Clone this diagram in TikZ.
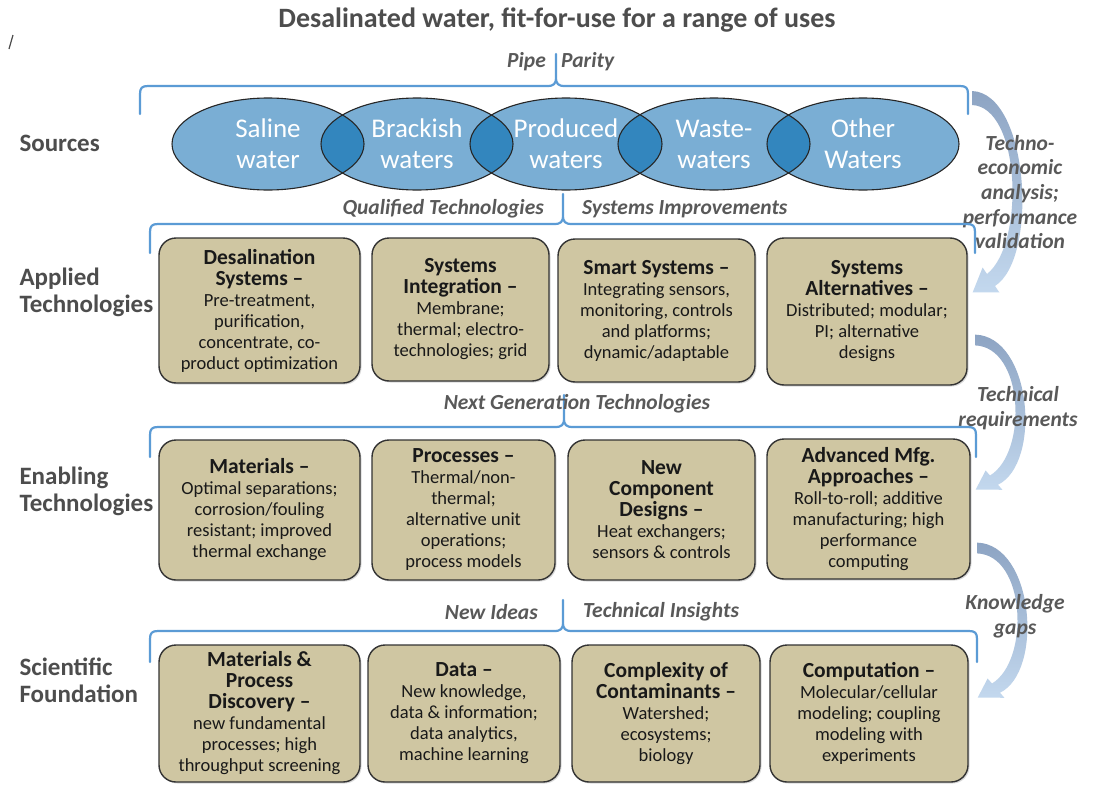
\documentclass[tikz,border=0pt]{standalone}
\usepackage{fontspec}
\setmainfont{Carlito}
\usetikzlibrary{shadows,shapes.geometric}
\definecolor{brc}{HTML}{5B9BD5}
\definecolor{ell}{HTML}{7AAED4}
\definecolor{ellov}{HTML}{3386BE}
\definecolor{boxf}{HTML}{CFC6A2}
\definecolor{lbl}{HTML}{4D4D4D}
\definecolor{ital}{HTML}{595959}
\definecolor{arrtop}{HTML}{8DA4C3}
\definecolor{arrbot}{HTML}{C3D8EE}
\newcommand\hd[1]{{\fontsize{21.5}{22}\selectfont\bfseries #1}}
\newcommand\mybrace[6]{%
\draw[bracepath] (#1,#5) -- (#1,#4+8) .. controls (#1,#4+2) and (#1+2,#4) .. (#1+8,#4)
 -- (#3-9,#4) .. controls (#3-2,#4) and (#3,#4-2) .. (#3,#4-9) -- (#3,#6)
 -- (#3,#4-9) .. controls (#3,#4-2) and (#3+2,#4) .. (#3+9,#4)
 -- (#2-8,#4) .. controls (#2-2,#4) and (#2,#4+2) .. (#2,#4+8) -- (#2,#5);}
\newcommand\bigarrow[3]{%
\begin{scope}[shift={(#1,#2)}, yscale=#3]
\shade[top color=arrtop, bottom color=arrbot]
 (0,-7) .. controls (57,-5) and (67,160) .. (23,188) -- (27.4,194.5) -- (0.7,194.3)
 -- (10.6,169.5) -- (15,176) .. controls (53,146) and (49,9) .. (0,7) -- cycle;
\end{scope}}
\begin{document}
\begin{tikzpicture}[x=1pt,y=-1pt,
  bracepath/.style={draw=brc, line width=2.2pt, line cap=round, line join=round},
  box/.style={draw=black!80, line width=1.4pt, fill=boxf, rounded corners=17pt, align=center,
    inner sep=0pt, text=black!90, font=\fontsize{18.5}{21}\selectfont,
    drop shadow={opacity=0.3, shadow xshift=1.5pt, shadow yshift=-1.5pt}},
  ellnode/.style={ellipse, draw=black!85, line width=1.1pt, minimum width=192pt, minimum height=92pt,
    inner sep=0pt, align=center, text=white, font=\fontsize{27}{31}\selectfont},
  side/.style={anchor=west, align=left, text=lbl, font=\fontsize{25}{27}\selectfont\bfseries},
  itl/.style={text=ital, font=\fontsize{21.5}{22}\selectfont\bfseries\itshape, inner sep=0pt},
  arl/.style={text=ital, align=center, font=\fontsize{21.5}{24.7}\selectfont\bfseries\itshape, inner sep=0pt}
]
\useasboundingbox (0,0) rectangle (1093,787);
\fill[white] (0,0) rectangle (1093,787);
\draw[black!70, line width=1.2pt] (13,35) -- (9,49);

% title
\node[text=lbl, font=\fontsize{28}{30}\selectfont\bfseries] (title) at (557,20) {Desalinated water, fit-for-use for a range of uses};

% curved arrows
\bigarrow{972}{98}{1}
\bigarrow{975}{340}{0.77}
\bigarrow{977}{548}{0.77}
\node[arl] (l1) at (1020,192) {Techno-\\economic\\analysis;\\performance\\validation};
\node[arl] (l2) at (1018,408) {Technical\\requirements};
\node[arl] (l3) at (1015,616) {Knowledge\\gaps};

% braces
\mybrace{140}{968}{556}{86}{114}{54}
\mybrace{150}{975}{563}{224}{253}{194}
\mybrace{150}{976}{564}{427}{457}{395}
\mybrace{150}{977}{563}{631}{662}{600}

\node[itl, anchor=east] (pipe) at (546,62) {Pipe};
\node[itl, anchor=west] (parity) at (561,62) {Parity};
\node[itl, anchor=east] (qt) at (544,209) {Qualified Technologies};
\node[itl, anchor=west] (si) at (582,209) {Systems Improvements};
\node[itl] (ngt) at (577,404) {Next Generation Technologies};
\node[itl, anchor=east] (ni) at (538,612) {New Ideas};
\node[itl, anchor=west] (ti) at (583,612) {Technical Insights};

% ellipses
\foreach \cx in {268,417,566,714,863} \fill[ell] (\cx,144) ellipse [x radius=96, y radius=46];
\foreach \a/\b in {268/417,417/566,566/714,714/863}{
  \begin{scope}
    \clip (\a,144) ellipse [x radius=96, y radius=46];
    \fill[ellov] (\b,144) ellipse [x radius=96, y radius=46];
  \end{scope}}
\node[ellnode] (e1) at (268,144) {Saline\\water};
\node[ellnode] (e2) at (417,144) {Brackish\\waters};
\node[ellnode] (e3) at (566,144) {Produced\\waters};
\node[ellnode] (e4) at (714,144) {Waste-\\waters};
\node[ellnode] (e5) at (863,144) {Other\\Waters};

% side labels
\node[side] (s1) at (16,143) {Sources};
\node[side] (s2) at (16,292) {Applied\\Technologies};
\node[side] (s3) at (16,491) {Enabling\\Technologies};
\node[side] (s4) at (16,680) {Scientific\\Foundation};

% row 2
\node[box, minimum width=201pt, minimum height=145pt] (a1) at (259.5,310.5)
 {\hd{Desalination}\\\hd{Systems –}\\Pre-treatment,\\purification,\\concentrate, co-\\product optimization};
\node[box, minimum width=177pt, minimum height=143pt] (a2) at (460.5,309.5)
 {\hd{Systems}\\\hd{Integration –}\\Membrane;\\thermal; electro-\\technologies; grid};
\node[box, minimum width=197pt, minimum height=143pt] (a3) at (656.5,310.5)
 {\hd{Smart Systems –}\\Integrating sensors,\\monitoring, controls\\and platforms;\\dynamic/adaptable};
\node[box, minimum width=200pt, minimum height=147pt] (a4) at (867,311.5)
 {\hd{Systems}\\\hd{Alternatives –}\\Distributed; modular;\\PI; alternative\\designs};

% row 3
\node[box, minimum width=201pt, minimum height=140pt] (b1) at (259.5,510)
 {\hd{Materials –}\\Optimal separations;\\corrosion/fouling\\resistant; improved\\thermal exchange};
\node[box, minimum width=183pt, minimum height=140pt] (b2) at (463.5,510)
 {\hd{Processes –}\\Thermal/non-\\thermal;\\alternative unit\\operations;\\process models};
\node[box, minimum width=187pt, minimum height=140pt] (b3) at (661.5,510)
 {\hd{New}\\\hd{Component}\\\hd{Designs –}\\Heat exchangers;\\sensors \& controls};
\node[box, minimum width=203pt, minimum height=140pt] (b4) at (868.5,509)
 {\hd{Advanced Mfg.}\\\hd{Approaches –}\\Roll-to-roll; additive\\manufacturing; high\\performance\\computing};

% row 4
\node[box, minimum width=201pt, minimum height=137pt] (c1) at (259.5,713.5)
 {\hd{Materials \&}\\\hd{Process}\\\hd{Discovery –}\\new fundamental\\processes; high\\throughput screening};
\node[box, minimum width=192pt, minimum height=137pt] (c2) at (464,713.5)
 {\hd{Data –}\\New knowledge,\\data \& information;\\data analytics,\\machine learning};
\node[box, minimum width=188pt, minimum height=137pt] (c3) at (666,713.5)
 {\hd{Complexity of}\\\hd{Contaminants –}\\Watershed;\\ecosystems;\\biology};
\node[box, minimum width=198pt, minimum height=137pt] (c4) at (869,713.5)
 {\hd{Computation –}\\Molecular/cellular\\modeling; coupling\\modeling with\\experiments};
\end{tikzpicture}
\end{document}
